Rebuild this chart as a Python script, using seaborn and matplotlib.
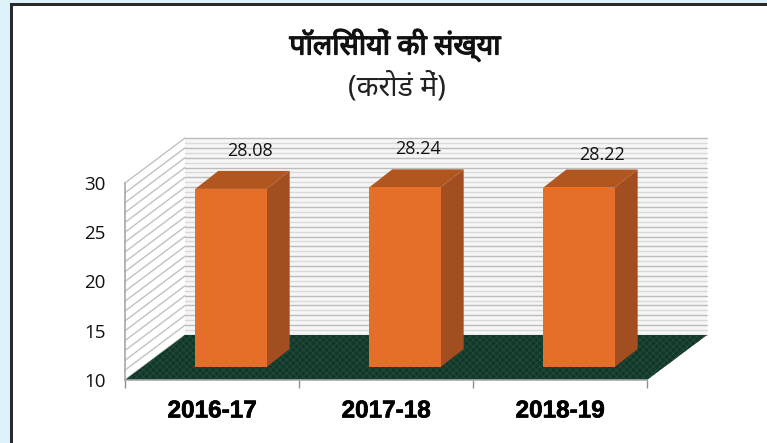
import numpy as np
import pandas as pd
import matplotlib
matplotlib.use("Agg")
import matplotlib.pyplot as plt
import matplotlib.patheffects as pe
from matplotlib.patches import Polygon, Rectangle
from matplotlib.transforms import Affine2D
import seaborn as sns

years = ["2016-17", "2017-18", "2018-19"]
policies = [28.08, 28.24, 28.22]
y_ticks = [10, 15, 20, 25, 30]
title = "पॉलिसीयों की संख्या"
subtitle = "(करोडं में)"

W, H = 767, 443
DPI = 100
sns.set_theme(style="white")
plt.rcParams["font.family"] = ["Noto Sans", "DejaVu Sans"]
plt.rcParams["hatch.linewidth"] = 0.7

fig = plt.figure(figsize=(W / DPI, H / DPI), dpi=DPI, facecolor="white")
L, R, T, B = 125, 647, 183, 380
ax = fig.add_axes([L / W, 1 - B / H, (R - L) / W, (B - T) / H])
ax.patch.set_visible(False)

df = pd.DataFrame({"year": years, "policies": policies})
sns.barplot(data=df, x="year", y="policies", color="#e56f28", saturation=1, width=0.41, ax=ax,
            zorder=5, linewidth=0, edgecolor="none")
ax.set_ylim(10, 30)
ax.set_xlim(-0.5, 2.5)
ax.set_xlabel("")
ax.set_ylabel("")

BACK = (60, -45)      # px, full floor depth
FRONT = (19, -13)     # px, front of bars
BARD = (23, -18)      # px, bar depth


def shift(dx, dy):
    # pixel offset (y down in the reference) on top of data coordinates
    return ax.transData + Affine2D().translate(dx, -dy)


back = shift(*BACK)
ax.add_patch(Polygon([(-0.5, 10), (2.5, 10), (2.5, 30), (-0.5, 30)], closed=True, transform=back,
                     fc="#f6f6f6", ec="none", zorder=0, clip_on=False))
for yv in np.arange(10, 30.01, 0.5):
    c = "#bcbcbc" if yv % 1 == 0 else "#dadada"
    ax.plot([-0.5, 2.5], [yv, yv], transform=back, color=c, lw=1.0, zorder=1, clip_on=False)
for yv in np.arange(10, 30.01, 1):
    p0 = ax.transData.transform((-0.5, yv))
    ax.plot([p0[0], p0[0] + BACK[0]], [p0[1], p0[1] - BACK[1]], transform=None, color="#c6c6c6", lw=1.1,
            zorder=1, clip_on=False)

# floor
p_fl, p_fr = ax.transData.transform([(-0.5, 10), (2.5, 10)])
floor = [p_fl, p_fr, p_fr + (BACK[0], -BACK[1]), p_fl + (BACK[0], -BACK[1])]
ax.add_patch(Polygon(floor, closed=True, transform=None, fc="#14352a", ec="#1f4d36", hatch="xxxxx", lw=0,
                     zorder=2, clip_on=False))

# bars: seaborn draws the fronts, sides and tops come from the same rectangles
for rect, v in zip(ax.patches[:3], policies):
    x0, w = rect.get_x(), rect.get_width()
    rect.set_y(10)
    rect.set_height(v - 10)
    rect.set_transform(shift(*FRONT))
    rect.set_clip_on(False)
    rect.set_zorder(5)
    a = ax.transData.transform([(x0, 10), (x0 + w, 10), (x0 + w, v), (x0, v)]) + (FRONT[0], -FRONT[1])
    d = np.array((BARD[0], -BARD[1]))
    ax.add_patch(Polygon([a[1], a[2], a[2] + d, a[1] + d], closed=True, transform=None, fc="#a34e20", ec="none",
                         zorder=4, clip_on=False))
    ax.add_patch(Polygon([a[3], a[2], a[2] + d, a[3] + d], closed=True, transform=None, fc="#b2561f", ec="none",
                         zorder=4, clip_on=False))

# value labels
for i, v, (dx, dy) in zip(range(3), policies, [(38, -39), (32, -39), (42, -34)]):
    ax.annotate(f"{v:.2f}", xy=(i, v), xytext=(dx, -dy + 12), textcoords="offset pixels", ha="center", va="center",
                fontsize=13, color="#111111", family=["Open Sans"], annotation_clip=False, zorder=6)

sns.despine(ax=ax, top=True, right=True)
for side in ("left", "bottom"):
    ax.spines[side].set_color("#a8a8a8")
    ax.spines[side].set_linewidth(1.2)
    ax.spines[side].set_zorder(3)
ax.set_yticks(y_ticks)
ax.tick_params(axis="y", length=0, pad=14, labelsize=13.5, labelcolor="#111111")
for t in ax.get_yticklabels():
    t.set_family(["Open Sans"])
ax.set_xticks(np.arange(-0.5, 3, 1), minor=True)
ax.tick_params(axis="x", which="minor", length=6, width=1, color="#909090", bottom=True)
ax.tick_params(axis="x", which="major", length=0, pad=14)
for t in ax.get_xticklabels():
    t.set_family(["Liberation Sans"])
    t.set_fontweight("bold")
    t.set_fontsize(17.5)
    t.set_color("black")
    t.set_path_effects([pe.withStroke(linewidth=0.5, foreground="black")])

# titles
fig.text(395 / W, 1 - 45 / H, title, ha="center", va="center", fontsize=20.5, color="#111111",
         path_effects=[pe.withStroke(linewidth=0.9, foreground="#111111")])
fig.text(397 / W, 1 - 87 / H, subtitle, ha="center", va="center", fontsize=20.5, color="#222222")

# page frame
tf = fig.transFigure
fig.add_artist(Rectangle((0, 0), 10 / W, 1, transform=tf, fc="#dff1fb", ec="none"))
fig.add_artist(Rectangle((0, 1 - 3 / H), 1, 3 / H, transform=tf, fc="#dff1fb", ec="none"))
fig.add_artist(Rectangle((10 / W, 0), 2.5 / W, 1 - 3 / H, transform=tf, fc="#2a2a2a", ec="none"))
fig.add_artist(Rectangle((10 / W, 1 - 6 / H), 1 - 10 / W, 3 / H, transform=tf, fc="#2a2a2a", ec="none"))

fig.savefig("out.png", dpi=DPI)
